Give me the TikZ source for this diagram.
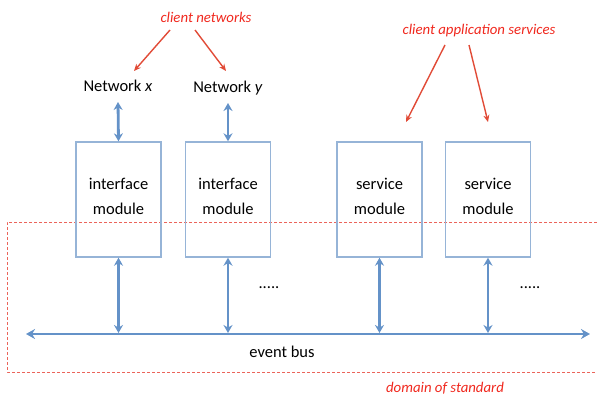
\documentclass[tikz,border=0pt]{standalone}
\usepackage{fontspec}
\setmainfont{Carlito}
\usetikzlibrary{arrows.meta}
\definecolor{busblue}{RGB}{100,146,200}
\definecolor{boxblue}{RGB}{150,180,215}
\definecolor{redtxt}{RGB}{240,40,30}
\definecolor{redarr}{RGB}{225,75,55}
\definecolor{reddash}{RGB}{235,100,90}
\begin{document}
\begin{tikzpicture}[x=1pt,y=-1pt,
  modbox/.style={draw=boxblue,line width=1.4pt,minimum width=85pt,minimum height=115pt,inner sep=0pt},
  modtext/.style={font=\fontsize{16.5}{25}\selectfont,align=center},
  lbl/.style={font=\fontsize{16.5}{19}\selectfont,inner sep=0pt},
  redlbl/.style={font=\fontsize{14.8}{17}\selectfont\itshape,text=redtxt,inner sep=0pt},
  bluearr/.style={draw=busblue,line width=2.8pt,{Stealth[length=8pt,width=9pt]}-{Stealth[length=8pt,width=9pt]}},
  redarrow/.style={draw=redarr,line width=1.4pt,-{Stealth[length=7pt,width=6pt]}},
  domdash/.style={draw=reddash,line width=1pt,dash pattern=on 3pt off 2pt}]
\useasboundingbox (0,0) rectangle (597,399);
% domain of standard
\draw[domdash] (597,222) -- (7,222) -- (7,372) -- (597,372);
% boxes
\node[modbox] (m1) at (118.5,199.5) {};
\node[modbox] (m2) at (228,199.5) {};
\node[modbox] (m3) at (379.5,199.5) {};
\node[modbox] (m4) at (488,199.5) {};
\node[modtext] (t1) at (118.5,196) {interface\\module};
\node[modtext] (t2) at (228,196) {interface\\module};
\node[modtext] (t3) at (379.5,196) {service\\module};
\node[modtext] (t4) at (488,196) {service\\module};
% networks
\node[lbl] (nx) at (118,86) {Network \textit{x}};
\node[lbl] (ny) at (228,88) {Network \textit{y}};
\coordinate (nxb) at (118,102);
\coordinate (nyb) at (228,103);
\draw[bluearr] (nxb) -- (m1.north);
\draw[bluearr] (nyb) -- (m2.north);
% bus
\coordinate (busL) at (26,334);
\coordinate (busR) at (590,334);
\draw[draw=busblue,line width=2.8pt,{Stealth[length=9pt,width=10pt]}-{Stealth[length=9pt,width=10pt]}] (busL) -- (busR);
\foreach \m/\x in {m1/118.5,m2/228,m3/379.5,m4/488}{
  \coordinate (b\m) at (\x,333);
  \draw[bluearr] (\m.south) -- (b\m);
}
\node[lbl] (eb) at (282,352) {event bus};
\node[lbl] (d1) at (269,288) {.....};
\node[lbl] (d2) at (530,288) {.....};
% red labels
\node[redlbl] (cn) at (206,17) {client networks};
\node[redlbl] (cas) at (479,31) {client application services};
\node[redlbl] (dos) at (445,388) {domain of standard};
\coordinate (cn1) at (170,30);
\coordinate (cn2) at (195,30);
\coordinate (cnx) at (134,71);
\coordinate (cny) at (226,71);
\draw[redarrow] (cn1) -- (cnx);
\draw[redarrow] (cn2) -- (cny);
\coordinate (ca1) at (445,45);
\coordinate (ca2) at (469,45);
\coordinate (ca3) at (406,122);
\coordinate (ca4) at (488,122);
\draw[redarrow] (ca1) -- (ca3);
\draw[redarrow] (ca2) -- (ca4);
\end{tikzpicture}
\end{document}
